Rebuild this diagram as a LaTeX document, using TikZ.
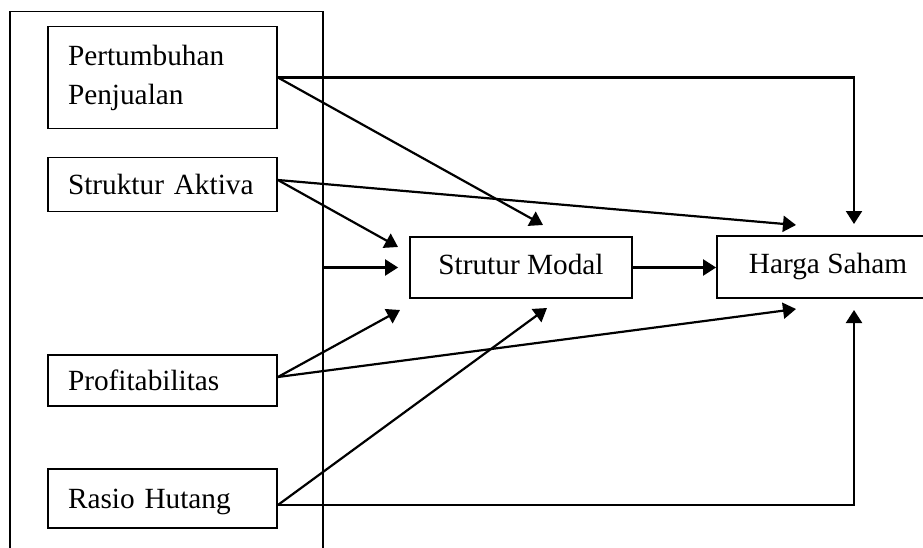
\documentclass[tikz,border=0pt]{standalone}
\usepackage{fontspec}
\setmainfont{Liberation Serif}
\usetikzlibrary{arrows.meta}
\begin{document}
\begin{tikzpicture}[x=1pt,y=-1pt,
  box/.style={draw,line width=1.8pt,inner sep=0pt},
  lbox/.style={box,text width=189pt,align=left,inner xsep=20pt,inner ysep=0pt},
  one/.style={text height=20pt,text depth=0pt},
  cbox/.style={box,minimum width=222pt,minimum height=61pt,text height=20pt,text depth=7pt},
  conn/.style={line width=2.2pt},
  arr/.style={conn,-{Triangle[length=13pt,width=16pt]}},
  font=\fontsize{29.3}{39}\selectfont]
\begin{scope}
\clip (0,0) rectangle (923,548);
\node[box,minimum width=313pt,minimum height=560pt] (outer) at (166.5,291.5) {};
\node[lbox,minimum height=102pt] (pp) at (162.5,77.5) {Pertumbuhan\\Penjualan};
\node[lbox,one,minimum height=54pt] (sa) at (162.5,184.5) {Struktur Aktiva};
\node[lbox,one,minimum height=51.4pt] (pr) at (162.5,380.3) {Profitabilitas};
\node[lbox,one,minimum height=59pt] (rh) at (162.5,498.5) {Rasio Hutang};
\node[cbox] (sm) at (521,267.5) {Strutur Modal};
\node[cbox,minimum height=62pt] (hs) at (828,267) {Harga Saham};
\coordinate (t1) at (543,225);
\coordinate (t2) at (854,224);
\coordinate (t3) at (398,247);
\coordinate (t4) at (796,225);
\coordinate (t5) at (400,310);
\coordinate (t6) at (796,309);
\coordinate (t7) at (547,308);
\coordinate (t8) at (854,310);
\draw[arr] (pp.east) -- (t1);
\draw[arr] (pp.east) -| (t2);
\draw[arr] ([yshift=4.5pt]sa.east) -- (t3);
\draw[arr] ([yshift=4.5pt]sa.east) -- (t4);
\draw[arr,shorten >=11pt] (outer.east |- sm.west) -- (sm.west);
\draw[arr] (sm.east) -- (sm.east -| hs.west);
\draw[arr] ([yshift=3.3pt]pr.east) -- (t5);
\draw[arr] ([yshift=3.3pt]pr.east) -- (t6);
\draw[arr] ([yshift=-6.5pt]rh.east) -- (t7);
\draw[arr] ([yshift=-6.5pt]rh.east) -| (t8);
\end{scope}
\pgfresetboundingbox
\useasboundingbox (0,0) rectangle (923,548);
\end{tikzpicture}
\end{document}
